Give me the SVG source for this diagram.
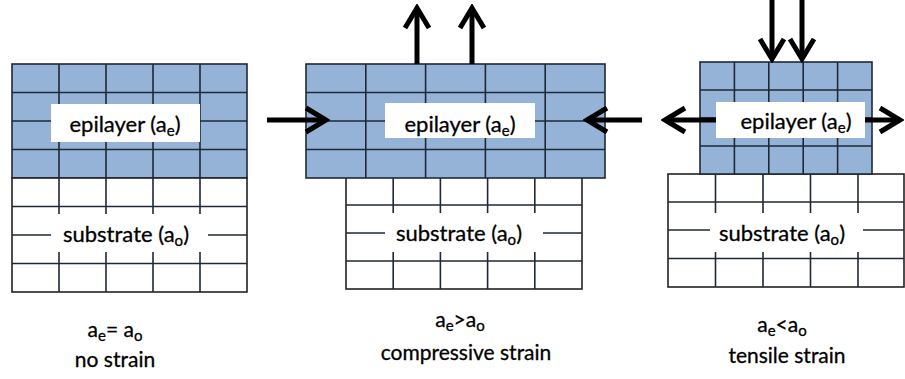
<svg xmlns="http://www.w3.org/2000/svg" width="905" height="379" viewBox="0 0 905 379">
<style>
.epi{fill:#95b3d7;stroke:#1e2838;stroke-width:1.6}
.sub{fill:#fff;stroke:#222;stroke-width:1.6}
.g{stroke:#1e2838;stroke-width:1.6;fill:none}
.box{fill:#fff;stroke:none}
.lbl{font-family:Lato,"Open Sans",sans-serif;font-size:22px;fill:#000;stroke:#000;stroke-width:0.3;text-anchor:middle}
.cap{font-family:Lato,"Open Sans",sans-serif;font-size:21px;fill:#000;stroke:#000;stroke-width:0.3;text-anchor:middle}
.s{font-size:15px}
.arr{stroke:#000;stroke-width:5;fill:none}
</style>
<defs>
<marker id="chev" markerUnits="userSpaceOnUse" viewBox="-24 -15 28 30" markerWidth="28" markerHeight="30" refX="0" refY="0" orient="auto">
<path d="M-20,-12 L0,0 L-20,12" fill="none" stroke="#000" stroke-width="5" stroke-linejoin="miter"/>
</marker>
</defs>

<g id="left-epilayer">
<rect class="epi" x="12" y="64" width="235" height="114"/>
<path class="g" d="M59,64V178M106,64V178M153,64V178M200,64V178M12,92.5H247M12,121H247M12,149.5H247"/>
<rect class="box" x="51" y="104" width="149" height="38"/>
<text class="lbl" x="125" y="132">epilayer (a<tspan class="s" dy="4">e</tspan><tspan dy="-4">)</tspan></text>
</g>
<g id="left-substrate">
<rect class="sub" x="12" y="178" width="235" height="114"/>
<path class="g" d="M59,178V292M106,178V292M153,178V292M200,178V292M12,206.5H247M12,235H247M12,263.5H247"/>
<rect class="box" x="51" y="214" width="157" height="38"/>
<text class="lbl" x="126" y="242">substrate (a<tspan class="s" dy="4">o</tspan><tspan dy="-4">)</tspan></text>
</g>

<g id="middle-substrate">
<rect class="sub" x="346" y="177" width="236" height="112"/>
<path class="g" d="M393.2,177V289M440.4,177V289M487.6,177V289M534.8,177V289M346,205H582M346,233H582M346,261H582"/>
<rect class="box" x="385" y="213" width="158" height="39"/>
<text class="lbl" x="459" y="241">substrate (a<tspan class="s" dy="4">o</tspan><tspan dy="-4">)</tspan></text>
</g>
<g id="middle-epilayer">
<rect class="epi" x="306" y="64" width="299" height="114"/>
<path class="g" d="M365.8,64V178M425.6,64V178M485.4,64V178M545.2,64V178M306,92.5H605M306,121H605M306,149.5H605"/>
<rect class="box" x="385" y="103" width="150" height="35"/>
<text class="lbl" x="460" y="132">epilayer (a<tspan class="s" dy="4">e</tspan><tspan dy="-4">)</tspan></text>
</g>

<g id="right-substrate">
<rect class="sub" x="668" y="174" width="236" height="113"/>
<path class="g" d="M715.5,174V287M763,174V287M810.5,174V287M858,174V287M668,202H904M668,230H904M668,258.5H904"/>
<rect class="box" x="710" y="213" width="153" height="39"/>
<text class="lbl" x="782" y="241">substrate (a<tspan class="s" dy="4">o</tspan><tspan dy="-4">)</tspan></text>
</g>
<g id="right-epilayer">
<rect class="epi" x="700" y="62" width="172" height="112"/>
<path class="g" d="M734.4,62V174M768.8,62V174M803.2,62V174M837.6,62V174M700,90H872M700,118H872M700,146H872"/>
<rect class="box" x="716" y="102" width="149" height="36"/>
<text class="lbl" x="796" y="129">epilayer (a<tspan class="s" dy="4">e</tspan><tspan dy="-4">)</tspan></text>
</g>

<g id="connectors">
<path class="arr" marker-end="url(#chev)" d="M417,64V8"/>
<path class="arr" marker-end="url(#chev)" d="M472,64V8"/>
<path class="arr" marker-end="url(#chev)" d="M267,120H326"/>
<path class="arr" marker-end="url(#chev)" d="M642,120H587"/>
<path class="arr" marker-end="url(#chev)" d="M772,0V59"/>
<path class="arr" marker-end="url(#chev)" d="M802,0V59"/>
<path class="arr" marker-end="url(#chev)" d="M716,120H665"/>
<path class="arr" marker-end="url(#chev)" d="M865,120H900"/>
</g>

<g id="captions">
<text class="cap" x="115" y="337">a<tspan class="s" dy="4">e</tspan><tspan dy="-4">= a</tspan><tspan class="s" dy="4">o</tspan></text>
<text class="cap" x="115" y="367">no strain</text>
<text class="cap" x="460" y="327">a<tspan class="s" dy="4">e</tspan><tspan dy="-4">&gt;a</tspan><tspan class="s" dy="4">o</tspan></text>
<text class="cap" x="466" y="360">compressive strain</text>
<text class="cap" x="782" y="332">a<tspan class="s" dy="4">e</tspan><tspan dy="-4">&lt;a</tspan><tspan class="s" dy="4">o</tspan></text>
<text class="cap" x="787" y="363">tensile strain</text>
</g>
</svg>
